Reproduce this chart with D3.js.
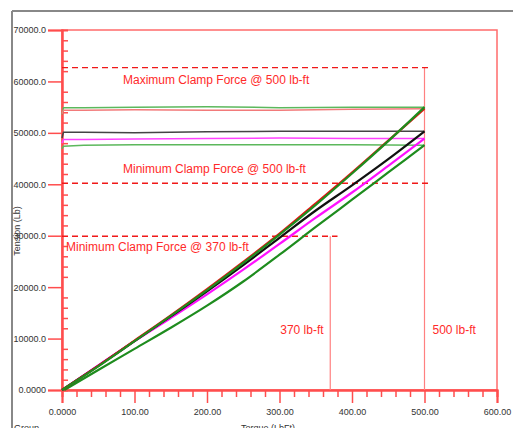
<html>
<head>
<style>
body { margin: 0; background: white; }
svg { display: block; font-family: "Liberation Sans", Arial, sans-serif; }
.tick text { fill: #333; font-size: 9px; }
.note { fill: #ff2a2a; font-size: 12px; }
</style>
</head>
<body>
<script src="https://cdnjs.cloudflare.com/ajax/libs/d3/7.8.5/d3.min.js"></script>
<script>
// torque points (lb-ft) for the tightening curves
var torque = [0, 50, 100, 150, 200, 250, 300, 350, 400, 450, 500];
var tensionGreenA = [0, 4600, 9500, 14400, 19400, 24700, 30200, 36000, 42100, 48400, 55000];
var tensionRed    = [0, 4700, 9600, 14500, 19600, 24900, 30400, 36300, 42300, 48500, 54700];
var tensionBlack  = [0, 4700, 9500, 14300, 19200, 24300, 29600, 34900, 39800, 44900, 50300];
var tensionPink   = [0, 4800, 9500, 14000, 18600, 23400, 28400, 33500, 38400, 43600, 48900];
var tensionGreenB = [0, 3900, 8000, 12100, 16400, 21100, 26300, 31700, 37000, 42300, 47600];

// hold lines after torque is released (tension kept)
var holdTorque = [500, 400, 300, 200, 100, 30, 2, 0];
var holdGreenA = [55000, 55000, 54900, 55100, 55000, 54900, 54900, 53600];
var holdRed    = [54700, 54600, 54400, 54400, 54500, 54400, 54400, 53700];
var holdBlack  = [50300, 50300, 50300, 50200, 50000, 50100, 50100, 49000];
var holdPink   = [48900, 48900, 49000, 48900, 48800, 48700, 48700, 48000];
var holdGreenB = [47600, 47700, 47700, 47700, 47700, 47600, 47400, 46900];

var seriesNames = ["greenA", "red", "black", "pink", "greenB"];
var seriesColors = ["#1e8c1e", "#e81010", "#111111", "#ff10ff", "#1e8c1e"];
var holdColors = ["#5cb85c", "#f27a7a", "#444444", "#ff40ff", "#5cb85c"];

// reference lines
var clampLabels = ["Maximum Clamp Force @ 500 lb-ft", "Minimum Clamp Force @ 500 lb-ft", "Minimum Clamp Force @ 370 lb-ft"];
var clampValues = [62700, 40200, 29900];
var clampEnds = [510, 510, 380];
var torqueMarks = [370, 500];
var torqueLabels = ["370 lb-ft", "500 lb-ft"];

var xTicks = [0, 100, 200, 300, 400, 500, 600];
var xTickLabels = ["0.0000", "100.00", "200.00", "300.00", "400.00", "500.00", "600.00"];
var yTicks = [0, 10000, 20000, 30000, 40000, 50000, 60000, 70000];
var yTickLabels = ["0.0000", "10000.0", "20000.0", "30000.0", "40000.0", "50000.0", "60000.0", "70000.0"];

var width = 513, height = 428;
var plotLeft = 62, plotRight = 497, plotTop = 30, plotBottom = 390;

var svg = d3.select("body").append("svg")
  .attr("width", width)
  .attr("height", height);

var x = d3.scaleLinear().domain([0, 600]).range([plotLeft, plotRight]);
var y = d3.scaleLinear().domain([0, 70000]).range([plotBottom, plotTop]);

// outer frame
svg.append("line").attr("x1", 12).attr("x2", width).attr("y1", 11).attr("y2", 11)
  .attr("stroke", "#888").attr("stroke-width", 2);
svg.append("line").attr("x1", 12).attr("x2", 12).attr("y1", 11).attr("y2", height)
  .attr("stroke", "#888").attr("stroke-width", 2);

// plot border
svg.append("rect")
  .attr("x", plotLeft).attr("y", plotTop)
  .attr("width", plotRight - plotLeft).attr("height", plotBottom - plotTop)
  .attr("fill", "none").attr("stroke", "#ff6b6b").attr("stroke-width", 1.5);

// minor ticks
var xMinor = d3.range(0, 600, 20).filter(function(d) { return d % 100 !== 0 });
var yMinor = d3.range(0, 70000, 2000).filter(function(d) { return d % 10000 !== 0 });

var xMinorAxis = svg.append("g")
  .attr("transform", "translate(0," + plotBottom + ")")
  .call(d3.axisBottom(x).tickValues(xMinor).tickSize(7).tickFormat(""));
var yMinorAxis = svg.append("g")
  .attr("transform", "translate(" + plotLeft + ",0)")
  .call(d3.axisRight(y).tickValues(yMinor).tickSize(6).tickFormat(""));

var xAxis = svg.append("g")
  .attr("transform", "translate(0," + plotBottom + ")")
  .call(d3.axisBottom(x).tickValues(xTicks).tickSize(13).tickPadding(6)
    .tickFormat(function(d, i) { return xTickLabels[i] }));
var yAxis = svg.append("g")
  .attr("transform", "translate(" + plotLeft + ",0)")
  .call(d3.axisLeft(y).tickValues(yTicks).tickSize(14).tickPadding(2)
    .tickFormat(function(d, i) { return yTickLabels[i] }));

[xMinorAxis, yMinorAxis, xAxis, yAxis].forEach(function(g) {
  g.select(".domain").attr("stroke", "#ff4d4d").attr("stroke-width", 2);
  g.selectAll(".tick line").attr("stroke", "#ff4d4d").attr("stroke-width", 1.5);
  g.selectAll(".tick text").attr("font-family", "Liberation Sans");
});

// axis titles
svg.append("text")
  .attr("x", 268).attr("y", 431)
  .attr("text-anchor", "middle")
  .attr("font-size", 9).attr("fill", "#333")
  .text("Torque (LbFt)");
svg.append("text")
  .attr("x", 14).attr("y", 431)
  .attr("font-size", 9).attr("fill", "#333")
  .text("Group");
svg.append("text")
  .attr("transform", "translate(20,231) rotate(-90)")
  .attr("text-anchor", "middle")
  .attr("font-size", 9).attr("fill", "#333")
  .text("Tension (Lb)");

// torque marker lines
var markTops = [clampValues[2], clampValues[0]];
torqueMarks.forEach(function(t, i) {
  svg.append("line")
    .attr("x1", x(t)).attr("x2", x(t))
    .attr("y1", y(markTops[i])).attr("y2", y(0))
    .attr("stroke", "#ff8080").attr("stroke-width", 1.2);
});
svg.append("text").attr("class", "note")
  .attr("x", x(torqueMarks[0]) - 50).attr("y", 334).text(torqueLabels[0]);
svg.append("text").attr("class", "note")
  .attr("x", x(torqueMarks[1]) + 8).attr("y", 334).text(torqueLabels[1]);

// clamp force dashed lines
clampValues.forEach(function(v, i) {
  svg.append("line")
    .attr("x1", x(0)).attr("x2", x(clampEnds[i]))
    .attr("y1", y(v)).attr("y2", y(v))
    .attr("stroke", "#f01818").attr("stroke-width", 1.3)
    .attr("stroke-dasharray", "6,4");
});
var clampLabelPos = [[123, 84], [123, 173], [66, 251]];
clampLabels.forEach(function(s, i) {
  svg.append("text").attr("class", "note")
    .attr("x", clampLabelPos[i][0]).attr("y", clampLabelPos[i][1])
    .text(s);
});

// data lines
var line = d3.line()
  .curve(d3.curveMonotoneX)
  .x(function(d) { return x(d[0]) })
  .y(function(d) { return y(d[1]) });
var holdLine = d3.line()
  .x(function(d) { return x(d[0]) })
  .y(function(d) { return y(d[1]) });

var rises = [tensionGreenA, tensionRed, tensionBlack, tensionPink, tensionGreenB];
var holds = [holdGreenA, holdRed, holdBlack, holdPink, holdGreenB];

holds.forEach(function(h, i) {
  svg.append("path")
    .datum(d3.zip(holdTorque, h))
    .attr("fill", "none")
    .attr("stroke", holdColors[i])
    .attr("stroke-width", 1.5)
    .attr("d", holdLine);
});

[4, 3, 2, 1, 0].forEach(function(i) {
  var pts = d3.zip(torque, rises[i]);
  if (seriesNames[i] === "greenB") pts[0][0] = 3;
  svg.append("path")
    .datum(pts)
    .attr("fill", "none")
    .attr("stroke", seriesColors[i])
    .attr("stroke-width", 2.2)
    .attr("d", line);
});
</script>
</body>
</html>
